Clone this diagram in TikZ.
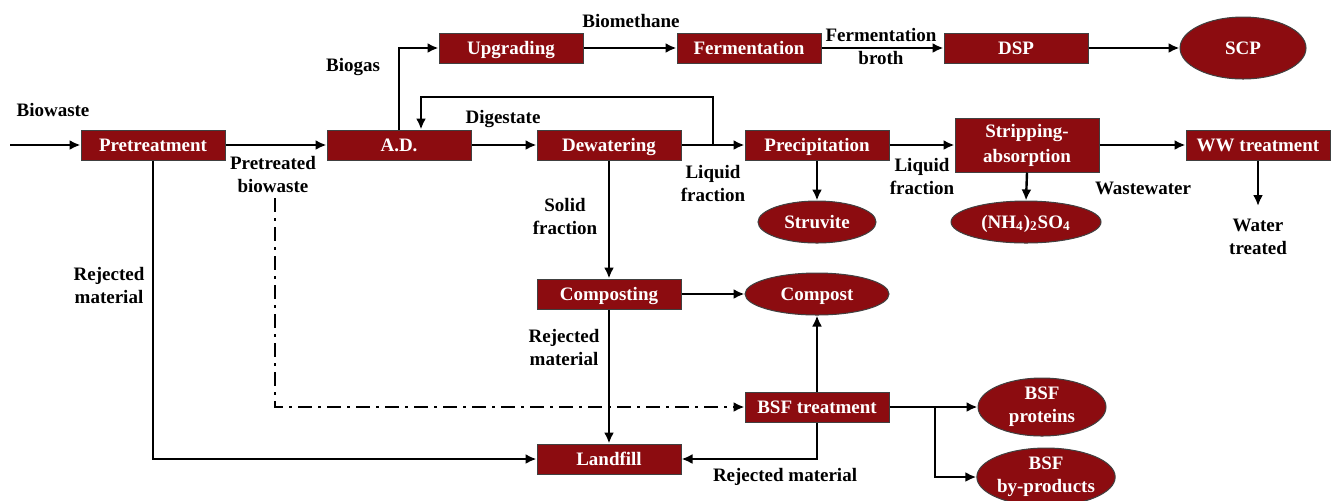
\documentclass[tikz,border=0pt]{standalone}
\usepackage{fontspec}
\setmainfont{Liberation Serif}
\usetikzlibrary{arrows.meta,shapes.geometric}
\definecolor{boxred}{RGB}{140,12,16}
\tikzset{
    unit/.style={draw=black!75, line width=0.5pt, fill=boxred, text=white,
        font=\bfseries\fontsize{9.5}{12.5}\selectfont, align=center,
        minimum width=72pt, minimum height=15pt, inner sep=1pt},
    oneline/.style={text height=8pt, text depth=1.7pt},
    product/.style={ellipse, draw=black!75, line width=0.5pt, fill=boxred, text=white,
        font=\bfseries\fontsize{9.5}{11.5}\selectfont, align=center, inner sep=0pt},
    flow/.style={line width=1.2pt, -{Latex[length=5.5pt,width=5pt]}},
    lbl/.style={font=\bfseries\fontsize{9.5}{11.5}\selectfont, align=center, inner sep=0pt}
}
\begin{document}
\begin{tikzpicture}[x=0.5pt,y=-0.5pt]
        \useasboundingbox (0,0) rectangle (1336,500);
        %% process units
        \node[unit, oneline] (pre) at (153,145) {Pretreatment};
        \node[unit, oneline] (ad) at (399,145) {A.D.};
        \node[unit, oneline] (dew) at (609,145) {Dewatering};
        \node[unit, oneline] (upg) at (511,48) {Upgrading};
        \node[unit, oneline] (fer) at (749,48) {Fermentation};
        \node[unit, oneline] (dsp) at (1016,48) {DSP};
        \node[unit, oneline] (prec) at (817,145) {Precipitation};
        \node[unit, minimum height=27pt] (strip) at (1027,145) {Stripping-\\absorption};
        \node[unit, oneline] (ww) at (1258,145) {WW treatment};
        \node[unit, oneline] (cmp) at (609,294) {Composting};
        \node[unit, oneline] (bsf) at (817,407) {BSF treatment};
        \node[unit, oneline] (land) at (609,459) {Landfill};
        %% products
        \node[product, oneline, minimum width=63pt, minimum height=31pt] (scp) at (1243,48) {SCP};
        \node[product, oneline, minimum width=59pt, minimum height=21pt] (stru) at (817,222) {Struvite};
        \node[product, oneline, minimum width=75pt, minimum height=21pt] (amm) at (1026,222) {(NH\textsubscript{4})\textsubscript{2}SO\textsubscript{4}};
        \node[product, oneline, minimum width=72pt, minimum height=21pt] (cpt) at (817,294) {Compost};
        \node[product, minimum width=64pt, minimum height=29pt] (prot) at (1042,407) {BSF\\proteins};
        \node[product, minimum width=68pt, minimum height=29pt] (byp) at (1046,477) {BSF\\by-products};
        %% free ends
        \coordinate (in) at (10,145);
        \coordinate (rec) at (713,145);
        \coordinate (rtop) at (713,97);
        \coordinate (dd) at (275,198);
        \coordinate (br) at (935,407);
        \coordinate (wout) at (1258,206);
        %% flows
        \draw[flow] (in) -- (pre.west);
        \draw[flow] (pre.east) -- (ad.west);
        \draw[flow] (ad.north) |- (upg.west);
        \draw[flow] (upg.east) -- (fer.west);
        \draw[flow] (fer.east) -- (dsp.west);
        \draw[flow] (dsp.east) -- (scp.west);
        \draw[flow] (ad.east) -- (dew.west);
        \draw[flow] (dew.east) -- (prec.west);
        \draw[flow] (rec) -- (rtop) -| ([xshift=11pt]ad.north);
        \draw[flow] (prec.east) -- (strip.west);
        \draw[flow] (strip.east) -- (ww.west);
        \draw[flow] (prec.south) -- (stru.north);
        \draw[flow] (strip.south) -- (amm.north);
        \draw[flow] (ww.south) -- (wout);
        \draw[flow] (dew.south) -- (cmp.north);
        \draw[flow] (cmp.east) -- (cpt.west);
        \draw[flow] (cmp.south) -- (land.north);
        \draw[flow] (pre.south) |- (land.west);
        \draw[flow, dash pattern=on 7pt off 3pt on 1.5pt off 3pt] (dd) |- (bsf.west);
        \draw[flow] (bsf.north) -- (cpt.south);
        \draw[flow] (bsf.south) |- (land.east);
        \draw[flow] (bsf.east) -- (prot.west);
        \draw[flow] (br) |- (byp.west);
        %% labels
        \node[lbl] (lbw) at (53,110) {Biowaste};
        \node[lbl] (lpre) at (273,174) {Pretreated\\biowaste};
        \node[lbl] (lbg) at (353,67) {Biogas};
        \node[lbl] (lbm) at (631,21) {Biomethane};
        \node[lbl] (lfb) at (881,46) {Fermentation\\broth};
        \node[lbl] (ldig) at (503,119) {Digestate};
        \node[lbl] (lliq) at (713,183) {Liquid\\fraction};
        \node[lbl] (lliq2) at (922,176) {Liquid\\fraction};
        \node[lbl] (lww) at (1143,188) {Wastewater};
        \node[lbl] (lwt) at (1258,237) {Water\\treated};
        \node[lbl] (lsol) at (565,216) {Solid\\fraction};
        \node[lbl] (lrej) at (564,347) {Rejected\\material};
        \node[lbl] (lrej2) at (109,285) {Rejected\\material};
        \node[lbl] (lrej3) at (785,477) {Rejected material};
    \end{tikzpicture}
\end{document}
